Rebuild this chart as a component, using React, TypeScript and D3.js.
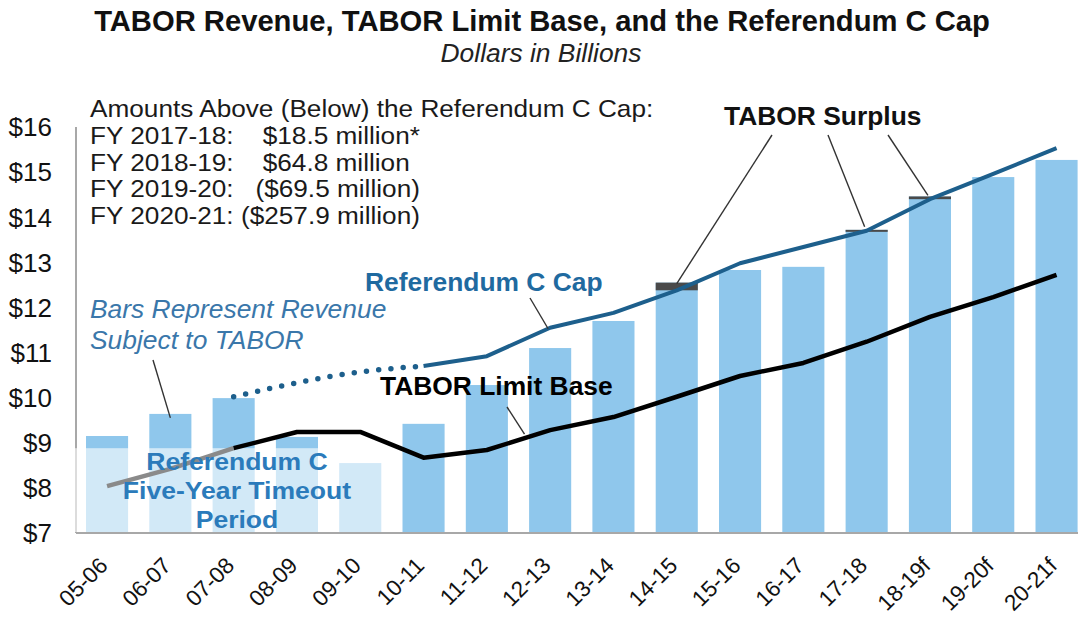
import React from "react";
import * as d3 from "d3";

const categories = ["05-06", "06-07", "07-08", "08-09", "09-10", "10-11", "11-12", "12-13", "13-14", "14-15", "15-16", "16-17", "17-18", "18-19f", "19-20f", "20-21f"];
const revenue = [9.15, 9.64, 9.99, 9.13, 8.55, 9.42, 10.28, 11.1, 11.7, 12.55, 12.83, 12.9, 13.72, 14.46, 14.89, 15.27];
const refCCap: (number | null)[] = [null, null, 10.02, 10.33, 10.57, 10.7, 10.92, 11.55, 11.88, 12.38, 12.98, 13.34, 13.7, 14.4, 14.96, 15.53];
const limitBase = [8.04, 8.42, 8.88, 9.24, 9.24, 8.67, 8.84, 9.28, 9.57, 10.02, 10.48, 10.77, 11.24, 11.79, 12.23, 12.72];
const capSolidFrom = "10-11";
const limitBlackFrom = "07-08";
const timeoutPeriod = ["05-06", "06-07", "07-08", "08-09", "09-10"];
const timeoutShadeTop = 8.88;
const surplusYears = ["14-15", "17-18", "18-19f"];
const yTicks = [7, 8, 9, 10, 11, 12, 13, 14, 15, 16];
const noteLines = [
  "Amounts Above (Below) the Referendum C Cap:",
  "FY 2017-18:    $18.5 million*",
  "FY 2018-19:    $64.8 million",
  "FY 2019-20:   ($69.5 million)",
  "FY 2020-21: ($257.9 million)",
];
const timeoutLines = ["Referendum C", "Five-Year Timeout", "Period"];
const barsNoteLines = ["Bars Represent Revenue", "Subject to TABOR"];

const W = 1078;
const H = 623;
const FONT = "Arial, 'Liberation Sans', Helvetica, sans-serif";
const BAR = "#8fc7ec";
const CAP = "#1d5f8c";
const FS = 26.4;

export default function App() {
  const x = d3.scaleBand<string>().domain(categories).range([75.4, 1088.2]).paddingInner(0.335).paddingOuter(0.1675);
  const y = d3.scaleLinear().domain([7, 16]).range([533, 127]);
  const cx = (c: string) => (x(c) as number) + x.bandwidth() / 2;
  const line = d3.line<[number, number]>().x((d) => d[0]).y((d) => d[1]);
  const smooth = d3.line<[number, number]>().x((d) => d[0]).y((d) => d[1]).curve(d3.curveMonotoneX);

  const capIdx = categories.indexOf(capSolidFrom);
  const capPts = categories.map((c, i) => [cx(c), refCCap[i] == null ? NaN : y(refCCap[i] as number)] as [number, number]);
  const capDotted = capPts.filter((p, i) => i <= capIdx && !isNaN(p[1]));
  const capSolid = capPts.filter((p, i) => i >= capIdx);
  const lbIdx = categories.indexOf(limitBlackFrom);
  const lbPts = categories.map((c, i) => [cx(c), y(limitBase[i])] as [number, number]);
  const lbGray = lbPts.filter((p, i) => i <= lbIdx);
  const lbBlack = lbPts.filter((p, i) => i >= lbIdx);

  const shadeX0 = 74;
  const lastTimeout = timeoutPeriod[timeoutPeriod.length - 1];
  const shadeX1 = (x(lastTimeout) as number) + x.bandwidth() + x.step() * 0.17;

  const i1415 = categories.indexOf("14-15");
  const i1718 = categories.indexOf("17-18");
  const i1819 = categories.indexOf("18-19f");
  const i1213 = categories.indexOf("12-13");
  const i1112 = categories.indexOf("11-12");

  return (
    <svg width={W} height={H} style={{ position: "absolute", left: 0, top: 0, background: "#fff" }} fontFamily={FONT}>
      <rect x={0} y={0} width={W} height={H} fill="#fff" />
      {/* title */}
      <text x={542} y={31} textAnchor="middle" fontSize={29.2} fontWeight="bold" fill="#111">
        TABOR Revenue, TABOR Limit Base, and the Referendum C Cap
      </text>
      <text x={541} y={62} textAnchor="middle" fontSize={FS} fontStyle="italic" fill="#222">
        Dollars in Billions
      </text>

      {/* bars */}
      {categories.map((c, i) => (
        <rect key={c} x={x(c)} y={y(revenue[i])} width={x.bandwidth()} height={y(7) - y(revenue[i])} fill={BAR} />
      ))}

      {/* surplus markers */}
      {surplusYears.map((c) => {
        const i = categories.indexOf(c);
        const a = y(revenue[i]);
        const b = y(refCCap[i] as number);
        const top = Math.min(a, b);
        const h = Math.max(2, Math.abs(a - b));
        return <rect key={c} x={x(c)} y={top} width={x.bandwidth()} height={h} fill="#4a4a4a" />;
      })}

      {/* axes */}
      <line x1={76} x2={76} y1={y(16)} y2={y(7)} stroke="#a8a8a8" strokeWidth={2} />
      <line x1={76} x2={W} y1={y(7)} y2={y(7)} stroke="#a8a8a8" strokeWidth={2} />

      {/* timeout shade */}
      <rect x={shadeX0} y={y(timeoutShadeTop)} width={shadeX1 - shadeX0} height={y(7) - y(timeoutShadeTop) - 1} fill="#fff" opacity={0.6} />

      {/* lines */}
      <path d={smooth(capDotted) || ""} fill="none" stroke={CAP} strokeWidth={5.5} strokeLinecap="round" strokeDasharray="0 12.3" />
      <path d={line(capSolid) || ""} fill="none" stroke={CAP} strokeWidth={4} strokeLinejoin="round" />
      <path d={line(lbGray) || ""} fill="none" stroke="#8a8a8a" strokeWidth={4.5} strokeLinejoin="round" />
      <path d={line(lbBlack) || ""} fill="none" stroke="#000" strokeWidth={4.5} strokeLinejoin="round" />

      {/* y ticks */}
      {yTicks.map((t) => (
        <text key={t} x={52} y={y(t)} dy="0.36em" textAnchor="end" fontSize={26} fill="#111">
          ${t}
        </text>
      ))}

      {/* x ticks */}
      {categories.map((c) => (
        <text key={c} transform={`translate(${cx(c) + 2},${567}) rotate(-45)`} textAnchor="end" fontSize={22.5} fill="#111">
          {c}
        </text>
      ))}

      {/* note box (slightly wide lettering, as in the reference) */}
      <g transform="translate(90,0) scale(1.11,1)">
        {noteLines.map((s, i) => (
          <text key={i} x={0} y={117 + i * 26.8} fontSize={23.6} fill="#1a1a1a" style={{ whiteSpace: "pre" }}>
            {s}
          </text>
        ))}
      </g>

      {/* TABOR Surplus */}
      <text x={724} y={125} fontSize={FS} fontWeight="bold" fill="#111">TABOR Surplus</text>
      <g stroke="#333" strokeWidth={1.4}>
        <line x1={772} y1={135} x2={cx(categories[i1415])} y2={y(revenue[i1415]) + 1} />
        <line x1={828} y1={135} x2={cx(categories[i1718]) - 2} y2={y(revenue[i1718]) - 3} />
        <line x1={888} y1={135} x2={cx(categories[i1819]) - 2} y2={y(revenue[i1819]) - 1} />
      </g>

      {/* Referendum C Cap label */}
      <text x={365} y={291} fontSize={FS} fontWeight="bold" fill="#1f6aa0">Referendum C Cap</text>
      <line x1={530} y1={298} x2={cx(categories[i1213]) - 2} y2={y(refCCap[i1213] as number) + 1} stroke="#333" strokeWidth={1.4} />

      {/* Bars represent revenue */}
      {barsNoteLines.map((s, i) => (
        <text key={i} x={90} y={318 + i * 31} fontSize={FS} fontStyle="italic" fill="#3a77aa">
          {s}
        </text>
      ))}
      <line x1={153} y1={360} x2={cx(categories[1])} y2={y(revenue[1]) + 4} stroke="#333" strokeWidth={1.4} />

      {/* TABOR Limit Base label */}
      <text x={380} y={395} fontSize={FS} fontWeight="bold" fill="#000">TABOR Limit Base</text>
      <line x1={507} y1={407} x2={(cx(categories[i1112]) + cx(categories[i1213])) / 2 + 6} y2={(y(limitBase[i1112]) + y(limitBase[i1213])) / 2 - 6} stroke="#333" strokeWidth={1.4} />

      {/* Timeout label */}
      <g transform="translate(237,0) scale(1.08,1)">
        {timeoutLines.map((s, i) => (
          <text key={i} x={0} y={470 + i * 29} fontSize={24.6} fontWeight="bold" fill="#2b7bbb" textAnchor="middle">
            {s}
          </text>
        ))}
      </g>
    </svg>
  );
}
